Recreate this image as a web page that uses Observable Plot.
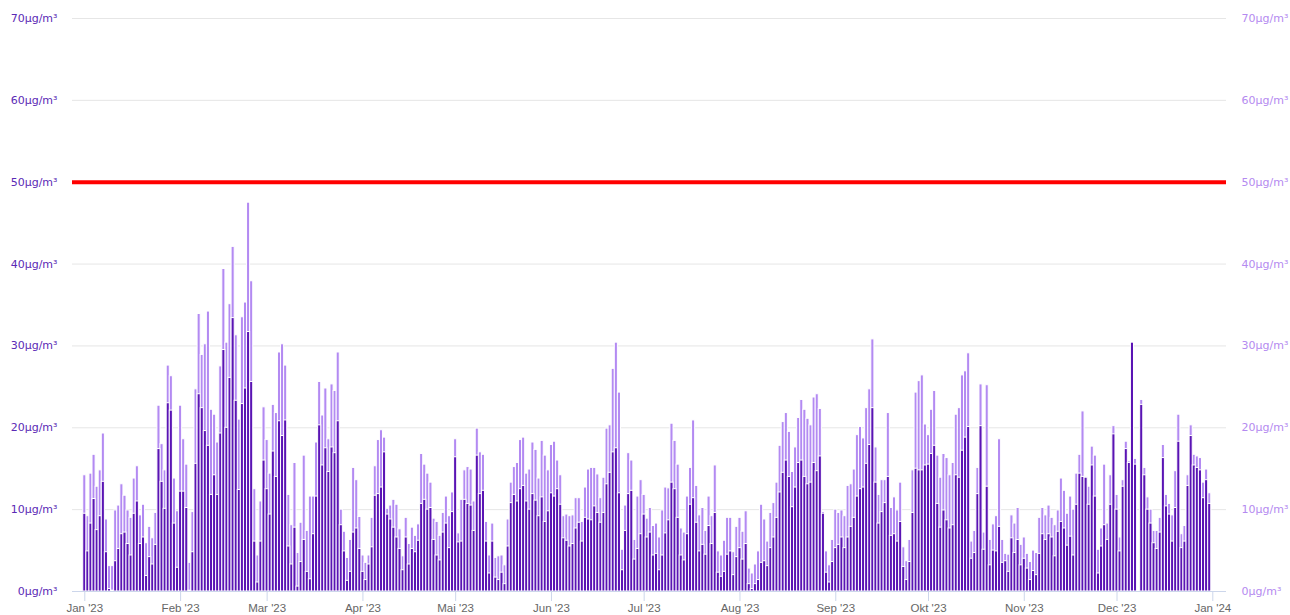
<!DOCTYPE html>
<html><head><meta charset="utf-8">
<script src="https://cdn.jsdelivr.net/npm/d3@7"></script>
<script src="https://cdn.jsdelivr.net/npm/@observablehq/plot@0.6"></script>
<style>html,body{margin:0;padding:0;background:#fff;overflow:hidden}</style>
</head><body><div id="chart"></div>
<script>
// Daily values 2023 (Jan 1 .. Dec 31), µg/m³
// light series (taller, behind)
const lightSeries = [
  // Jan
  14.2,9.2,14.4,16.7,12.8,14.8,19.3,8.8,3.1,3.1,9.9,10.5,13.1,11.7,9.9,9.0,13.8,15.3,9.3,10.6,5.9,7.9,6.5,9.6,22.7,18.0,14.8,27.6,26.3,13.8,9.8,
  // Feb
  22.7,18.6,15.5,3.5,9.7,24.7,33.9,28.9,30.2,34.2,22.2,21.6,18.2,27.5,39.4,30.4,35.1,42.1,31.3,21.0,33.5,35.3,47.5,37.9,12.5,4.4,11.0,22.5,
  // Mar
  18.5,14.4,22.8,21.8,29.2,30.2,27.6,11.8,8.1,15.7,4.7,8.4,16.6,7.4,11.6,11.6,18.2,25.6,21.5,24.8,18.6,25.3,24.5,29.2,10.0,7.3,4.1,6.3,15.1,13.6,9.1,
  // Apr
  4.4,3.5,4.4,9.0,15.3,18.5,19.7,18.8,10.1,10.5,11.2,10.6,7.6,4.3,9.0,5.8,7.8,6.8,8.2,16.8,15.5,14.4,13.3,8.9,8.5,6.8,9.6,11.6,9.2,12.1,
  // Mai
  18.6,7.1,11.2,14.8,15.2,14.9,11.0,19.9,17.0,16.7,8.5,4.4,8.3,4.1,4.3,4.4,3.2,8.8,13.3,15.2,15.7,18.5,18.8,14.4,14.9,18.2,17.3,13.8,18.4,16.6,14.8,
  // Jun
  17.9,18.3,16.0,14.2,9.2,9.4,9.2,9.3,11.4,11.4,8.5,12.7,14.9,15.1,15.1,14.3,11.4,13.9,19.9,20.3,27.2,30.4,24.3,5.1,10.5,16.9,16.0,6.3,11.6,13.6,
  // Jul
  11.8,8.9,10.2,8.0,8.3,6.6,9.9,12.7,12.6,20.5,18.4,15.5,7.7,7.2,11.6,15.1,20.9,12.9,9.3,10.2,7.4,11.6,9.2,15.4,4.9,4.4,6.2,9.0,9.0,4.8,7.9,
  // Aug
  9.0,7.3,9.8,2.8,2.2,3.3,4.9,10.6,8.8,6.1,9.6,10.8,13.3,17.8,20.7,21.8,19.5,14.6,17.6,21.2,23.4,22.2,21.1,20.3,23.7,24.1,22.3,9.7,4.9,3.2,6.3,
  // Sep
  10.0,9.6,9.9,9.2,12.9,13.1,14.9,19.1,20.1,18.7,22.4,24.7,30.8,17.6,11.8,13.6,13.6,21.8,10.2,11.5,9.9,13.3,5.4,3.7,6.3,14.8,24.3,25.7,26.4,20.4,
  // Okt
  19.1,22.2,24.5,16.6,13.9,16.8,16.3,14.2,15.7,21.6,22.4,26.4,26.9,29.1,6.1,7.4,15.1,25.3,7.2,25.2,6.3,8.2,9.2,18.6,6.3,4.6,4.5,9.3,8.3,10.2,5.7,
  // Nov
  6.6,4.6,3.6,5.0,4.7,9.0,10.2,9.3,10.5,9.0,8.1,9.9,13.8,12.3,9.5,11.6,10.0,14.4,16.7,22.0,14.0,12.8,17.7,16.6,5.1,7.7,15.5,8.3,14.2,20.2,
  // Dec
  11.8,6.6,13.6,18.3,15.9,28.0,16.2,null,23.4,15.1,11.5,10.0,7.4,7.4,9.0,17.9,11.8,10.7,9.3,14.7,21.6,7.0,8.0,14.2,20.3,16.7,16.5,16.3,13.3,14.9,12.0
];
// dark series (in front)
const darkSeries = [
  // Jan
  9.5,4.9,8.3,11.3,7.5,9.2,13.4,4.8,0.3,0.1,3.7,5.2,7.0,7.2,5.8,4.4,9.5,11.0,5.8,6.6,1.9,4.2,3.3,5.7,17.4,13.4,10.1,23.0,22.1,8.3,2.9,
  // Feb
  12.2,12.2,10.2,0.1,4.8,15.6,24.1,22.4,19.6,17.8,11.8,14.2,11.8,19.3,29.5,20.0,26.1,33.4,23.3,12.4,22.9,24.8,31.7,25.6,6.1,1.1,6.1,16.0,
  // Mar
  12.5,9.4,17.1,14.0,20.8,19.0,20.9,5.5,3.3,7.8,0.6,3.6,6.3,2.4,1.5,7.0,11.6,20.3,15.4,17.5,14.6,17.6,16.9,20.8,8.1,4.9,1.3,2.4,7.2,7.7,5.2,
  // Apr
  2.4,1.4,3.3,5.4,11.7,11.9,12.7,17.0,9.4,8.8,7.8,6.6,5.2,2.6,6.6,3.3,5.2,4.8,6.2,10.7,11.2,10.0,10.2,6.3,4.4,3.8,7.2,8.3,5.3,9.7,
  // Mai
  16.4,6.0,6.1,11.2,10.7,10.5,7.4,16.6,11.9,12.3,6.1,2.2,6.1,1.7,1.4,2.3,0.9,5.5,10.8,11.8,11.0,12.5,12.9,11.0,10.0,11.9,11.1,9.2,11.5,8.5,9.8,
  // Jun
  12.0,11.6,12.5,10.6,6.5,6.2,5.5,5.8,7.7,8.4,6.1,9.0,8.8,8.7,10.4,9.6,8.4,9.6,13.1,14.5,17.0,17.5,12.0,2.6,7.4,11.9,12.3,3.9,5.2,7.0,
  // Jul
  9.4,6.6,7.2,4.4,4.6,2.6,4.4,7.1,8.7,13.3,12.5,9.0,4.4,3.8,7.0,10.6,11.4,8.4,4.9,5.7,4.5,8.0,5.8,9.6,2.3,1.8,2.4,4.5,4.9,2.0,4.2,
  // Aug
  5.3,3.9,5.8,0.9,0.3,0.9,1.4,3.5,3.7,3.1,5.3,6.6,9.0,12.1,14.5,16.0,14.0,10.3,12.7,15.7,16.0,14.0,13.1,13.3,15.7,14.7,16.5,9.5,2.3,1.1,3.6,
  // Sep
  5.3,5.7,6.6,5.3,6.6,7.9,9.0,11.6,12.5,12.7,15.6,17.9,22.4,13.3,8.3,9.7,10.8,14.0,6.8,7.0,6.1,8.5,3.0,1.4,3.6,9.6,15.0,14.8,14.8,15.4,
  // Okt
  15.5,16.8,17.8,10.7,7.8,9.9,8.7,7.7,8.1,14.2,13.9,17.2,18.8,20.1,4.0,4.7,11.9,20.2,5.1,12.8,3.2,5.0,4.9,7.9,3.5,3.7,2.4,6.5,4.7,6.3,3.2,
  // Nov
  4.0,2.8,1.4,2.5,2.0,4.6,7.0,6.3,7.0,6.6,4.3,7.3,8.5,7.7,5.6,6.7,4.4,10.6,14.4,14.0,13.9,10.6,15.4,11.6,2.2,5.5,8.1,6.3,10.6,19.2,
  // Dec
  10.0,4.9,12.8,17.4,15.7,30.4,15.5,null,22.8,14.2,10.0,8.3,5.9,5.2,7.2,16.3,10.4,9.4,6.1,10.2,18.3,5.3,6.1,12.9,19.0,15.4,15.1,14.8,11.4,13.6,10.7
];
const yTicks = [0, 10, 20, 30, 40, 50, 60, 70];
const unit = "µg/m³";
const monthLabels = ["Jan '23","Feb '23","Mar '23","Apr '23","Mai '23","Jun '23","Jul '23","Aug '23","Sep '23","Okt '23","Nov '23","Dec '23","Jan '24"];
const limitValue = [50];

const DAY = 864e5;
const dates = lightSeries.map((_, i) => new Date(Date.UTC(2023, 0, 1 + i)));
const rows = dates.map((date, i) => ({date, light: lightSeries[i], dark: darkSeries[i]}));
const monthTicks = monthLabels.map((_, i) => new Date(Date.UTC(2023, i, 1)));
const labelOf = d => monthLabels[(d.getUTCFullYear() - 2023) * 12 + d.getUTCMonth()];

const barOpts = {
  x1: d => new Date(+d.date - DAY / 2),
  x2: d => new Date(+d.date + DAY / 2),
  stroke: "#ffffff",
  strokeWidth: 1
};

const chart = Plot.plot({
  width: 1290,
  height: 615,
  marginLeft: 72,
  marginRight: 64,
  marginTop: 18,
  marginBottom: 24,
  style: {background: "#ffffff", fontFamily: "Liberation Sans, Arial, sans-serif", overflow: "visible"},
  x: {type: "utc", domain: [new Date(Date.UTC(2022, 11, 28, 0, 30)), new Date(Date.UTC(2024, 0, 5, 10, 20))]},
  y: {domain: [0, 70]},
  marks: [
    Plot.gridY(yTicks.filter(d => d > 0), {stroke: "#e6e6e6", strokeOpacity: 1}),
    Plot.rectY(rows.filter(d => d.light != null), {...barOpts, y: "light", fill: "#b38af2"}),
    Plot.rectY(rows.filter(d => d.dark != null), {...barOpts, y: "dark", fill: "#5a14b4"}),
    Plot.ruleY([0], {stroke: "#ccd6eb"}),
    Plot.ruleY(limitValue, {stroke: "#ff0000", strokeWidth: 4}),
    Plot.axisY(yTicks, {anchor: "left", tickSize: 0, tickPadding: 15, tickFormat: d => d + unit, fill: "#5b2ab5", fontSize: 11, fontFamily: "DejaVu Sans", label: null}),
    Plot.axisY(yTicks, {anchor: "right", tickSize: 0, tickPadding: 15, tickFormat: d => d + unit, fill: "#b48af0", fontSize: 11, fontFamily: "DejaVu Sans", label: null}),
    Plot.axisX(monthTicks, {anchor: "bottom", tickSize: 10, tickPadding: 2, stroke: "#ccd6eb", fill: "#666666", tickFormat: labelOf, fontSize: 11.5, label: null})
  ]
});
document.getElementById("chart").appendChild(chart);
</script>
</body></html>
